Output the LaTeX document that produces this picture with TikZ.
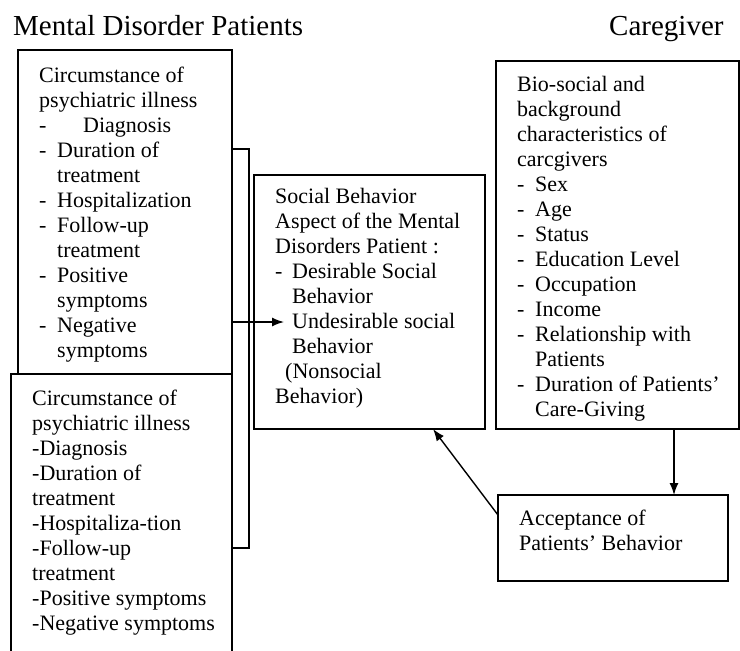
\documentclass[tikz,border=0pt]{standalone}
\usepackage{fontspec}
\setmainfont{Liberation Serif}
\usetikzlibrary{arrows.meta}
\begin{document}
\begin{tikzpicture}[x=1pt,y=-1pt,
  box/.style={draw, line width=1.4pt, rectangle, inner sep=0pt, outer sep=0pt, anchor=north west, fill=white},
  txt/.style={anchor=base west, inner sep=0pt, align=flush left, text width=#1, font=\fontsize{22}{25}\selectfont},
  ttl/.style={anchor=base west, inner sep=0pt, font=\fontsize{29}{32}\selectfont},
  arr/.style={line width=1.4pt, -{Latex[length=12pt,width=9pt]}},
  ln/.style={line width=1.4pt}]
\useasboundingbox (0,0) rectangle (740,651);

% titles
\node[ttl] (t1) at (13,35) {Mental Disorder Patients};
\node[ttl] (t2) at (609,35) {Caregiver};

% bracket joining the two patient boxes
\coordinate (brA) at (249,149);
\coordinate (brB) at (249,548);

% boxes
\node[box, minimum width=214pt, minimum height=324pt] (box1) at (18,50) {};
\draw[ln] (box1.east |- brA) -- (brA) -- (brB) -- (232,548);
\node[box, minimum width=221pt, minimum height=282pt] (box2) at (11,374) {};
\draw[ln] (brB) -- (box2.east |- brB);
\node[box, minimum width=231pt, minimum height=254pt] (soc) at (254,175) {};
\node[box, minimum width=243pt, minimum height=368pt] (bio) at (496,61) {};
\node[box, minimum width=230pt, minimum height=86pt] (acc) at (498,495) {};

% texts
\node[txt=190pt] (x1) at (39,82) {Circumstance of\\
psychiatric illness\\
\makebox[44pt][l]{-}Diagnosis\\
\makebox[18pt][l]{-}Duration of\\
\hspace*{18pt}treatment\\
\makebox[18pt][l]{-}Hospitalization\\
\makebox[18pt][l]{-}Follow-up\\
\hspace*{18pt}treatment\\
\makebox[18pt][l]{-}Positive\\
\hspace*{18pt}symptoms\\
\makebox[18pt][l]{-}Negative\\
\hspace*{18pt}symptoms};

\node[txt=200pt] (x2) at (32,405) {Circumstance of\\
psychiatric illness\\
-Diagnosis\\
-Duration of\\
treatment\\
-Hospitaliza-tion\\
-Follow-up\\
treatment\\
-Positive symptoms\\
-Negative symptoms};

\node[txt=205pt] (x3) at (275,203) {Social Behavior\\
Aspect of the Mental\\
Disorders Patient :\\
\makebox[17pt][l]{-}Desirable Social\\
\hspace*{17pt}Behavior\\
\hspace*{17pt}Undesirable social\\
\hspace*{17pt}Behavior\\
\hspace*{10pt}(Nonsocial\\
Behavior)};

\node[txt=215pt] (x4) at (517,91) {Bio-social and\\
background\\
characteristics of\\
carcgivers\\
\makebox[18pt][l]{-}Sex\\
\makebox[18pt][l]{-}Age\\
\makebox[18pt][l]{-}Status\\
\makebox[18pt][l]{-}Education Level\\
\makebox[18pt][l]{-}Occupation\\
\makebox[18pt][l]{-}Income\\
\makebox[18pt][l]{-}Relationship with\\
\hspace*{18pt}Patients\\
\makebox[18pt][l]{-}Duration of Patients'\\
\hspace*{18pt}Care-Giving};

\node[txt=200pt] (x5) at (519,525) {Acceptance of\\
Patients' Behavior};

% connectors
\coordinate (tip) at (284,322);
\draw[arr] (box1.east |- tip) -- (tip);
\coordinate (dn) at (674,0);
\draw[arr] (bio.south -| dn) -- (acc.north -| dn);
\coordinate (up) at (433,0);
\coordinate (fromacc) at (0,515);
\draw[arr] (acc.west |- fromacc) -- (soc.south -| up);
\end{tikzpicture}
\end{document}
